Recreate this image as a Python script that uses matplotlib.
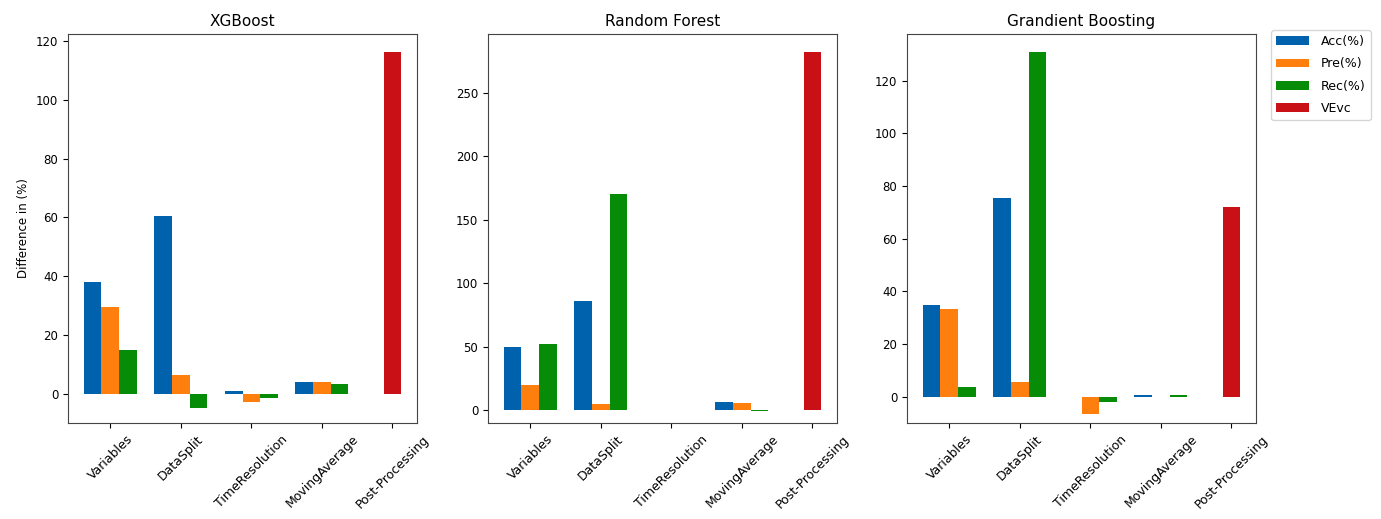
import numpy as np
import matplotlib
matplotlib.use("Agg")
import matplotlib.pyplot as plt

categories = ["Variables", "DataSplit", "TimeResolution", "MovingAverage", "Post-Processing"]
series_names = ["Acc(%)", "Pre(%)", "Rec(%)", "VEvc"]
titles = ["XGBoost", "Random Forest", "Grandient Boosting"]

# XGBoost
xgb_acc = [38.0, 60.4, 0.8, 4.1, np.nan]
xgb_pre = [29.6, 6.2, -2.7, 4.1, np.nan]
xgb_rec = [14.8, -5.0, -1.4, 3.2, np.nan]
xgb_vevc = [np.nan, np.nan, np.nan, np.nan, 116.3]

# Random Forest
rf_acc = [50.0, 86.0, 0.0, 6.6, np.nan]
rf_pre = [19.7, 5.3, 0.0, 6.0, np.nan]
rf_rec = [52.1, 170.2, 0.0, -0.8, np.nan]
rf_vevc = [np.nan, np.nan, np.nan, np.nan, 282.3]

# Gradient Boosting
gb_acc = [34.8, 75.5, 0.0, 0.8, np.nan]
gb_pre = [33.1, 5.4, -6.6, 0.0, np.nan]
gb_rec = [3.6, 130.8, -2.1, 0.8, np.nan]
gb_vevc = [np.nan, np.nan, np.nan, np.nan, 72.0]

colors = ["#0062ad", "#ff7f0e", "#078c07", "#c81016"]

models = [
    (xgb_acc, xgb_pre, xgb_rec, xgb_vevc),
    (rf_acc, rf_pre, rf_rec, rf_vevc),
    (gb_acc, gb_pre, gb_rec, gb_vevc),
]

fig = plt.figure(figsize=(13.81, 5.19), dpi=100)
lefts = [68 / 1381, 488 / 1381, 907 / 1381]
width_ax = 349 / 1381
bottom_ax = 1 - 423 / 519
height_ax = (423 - 34) / 519

x = np.arange(len(categories))
bw = 0.25
offsets = [-bw, 0.0, bw]

axes = []
for i, (data, title) in enumerate(zip(models, titles)):
    ax = fig.add_axes([lefts[i], bottom_ax, width_ax, height_ax])
    axes.append(ax)
    for j in range(3):
        vals = np.array(data[j], dtype=float)
        m = ~np.isnan(vals)
        ax.bar(x[m] + offsets[j], vals[m], width=bw, color=colors[j], label=series_names[j])
    vv = np.array(data[3], dtype=float)
    m = ~np.isnan(vv)
    ax.bar(x[m], vv[m], width=bw, color=colors[3], label=series_names[3])
    ax.set_ylim(bottom=-10)
    ax.set_xticks(x)
    ax.set_xticklabels(categories, rotation=45, fontsize=9)
    ax.tick_params(axis="y", labelsize=8.5)
    ax.set_title(title, fontsize=11)
    for s in ax.spines.values():
        s.set_color("#444444")

axes[0].set_ylabel("Difference in (%)", fontsize=8.5)

handles, labels = axes[2].get_legend_handles_labels()
fig.legend(handles, labels, loc="upper left",
           bbox_to_anchor=(1271 / 1381, 1 - 30 / 519),
           borderaxespad=0, fontsize=9, handlelength=2.6,
           labelspacing=0.75, handletextpad=1.0)

fig.savefig("out.png", dpi=100)
